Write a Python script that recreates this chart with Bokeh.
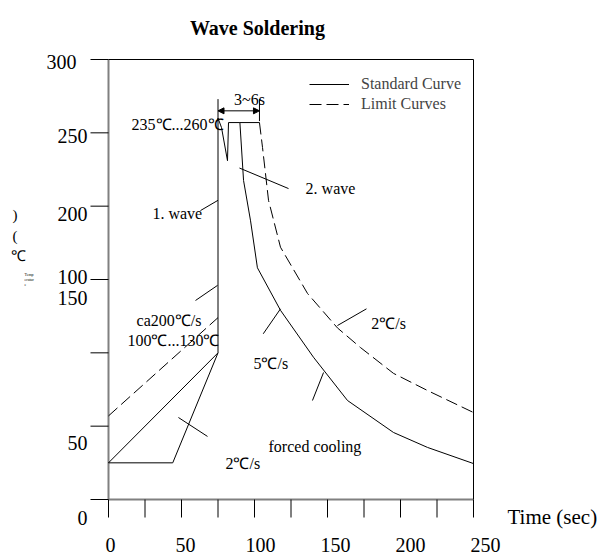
from bokeh.plotting import figure
from bokeh.models import Range1d, Label, Legend, LegendItem, Arrow, NormalHead, ColumnDataSource
from bokeh.core.properties import value
from bokeh.embed import file_html
from bokeh.resources import INLINE

# ---------------- data ----------------
x_ticks = [0, 25, 50, 75, 100, 125, 150, 175, 200, 225, 250]
x_label_text = ["0", "50", "100", "150", "200", "250"]
x_label_val = [0, 50, 100, 150, 200, 250]
y_ticks = [0, 50, 100, 150, 200, 250, 300]
# y tick labels as they appear (misplaced) in the source picture
y_label_text = ["300", "250", "200", "100", "150", "50", "0"]
y_label_val = [298, 248, 195, 151.4, 137.7, 38.2, -12.3]

# standard curve (time s, temperature C)
std_x = [0, 44, 75, 75, 77.4, 81.5, 82.2, 90, 92.5, 97.3, 102, 117.8, 140.4, 163.7, 195.2, 218.5, 250]
std_y = [25, 25, 100, 260, 253.6, 231, 257, 257, 217.5, 190, 158, 129, 97, 67.5, 45.7, 35.5, 24.5]
lower_x = [0, 75]
lower_y = [25, 100]
plateau_x = [90, 103.4]
plateau_y = [257, 257]
# limit curves
lim_pre_x = [0, 75]
lim_pre_y = [57, 124]
lim_cool_x = [103.4, 105.5, 109.6, 117.8, 136.3, 156.8, 172.6, 195.2, 218.5, 250]
lim_cool_y = [257, 240, 204, 172, 140.5, 117, 103.6, 86, 74.3, 59.3]

# leader lines
lead_x0 = [63, 89.7, 59.6, 106, 139.7, 156.8, 47.9]
lead_y0 = [197, 226, 135.7, 113, 67.5, 118.6, 55.9]
lead_x1 = [75, 123.3, 74.7, 117.8, 147.3, 176.7, 67.8]
lead_y1 = [204, 212, 146, 130, 86.6, 130, 43.0]

# dimension 3~6s
dim_x = [75, 103.4]
dim_y = 265
ext_y = [258, 273]

# annotation texts
ann_text = ["1. wave", "2. wave", "ca200\u2103/s", "100\u2103...130\u2103", "5\u2103/s",
            "2\u2103/s", "forced cooling", "2\u2103/s"]
ann_x = [30.1, 135, 19.2, 13, 99.3, 180, 109.6, 80.1]
ann_y = [195, 212, 122, 108.4, 92.7, 120, 36.1, 24.5]

FONT = "Liberation Serif"
W, H = 598, 556
PX, PY = 1.46, 440 / 300.0          # pixels per data unit
X0, Y0 = 108, 499                    # page position of data origin

p = figure(width=W, height=H,
           x_range=Range1d(-X0 / PX, (W - X0) / PX),
           y_range=Range1d(-(H - Y0) / PY, Y0 / PY),
           x_axis_type=None, y_axis_type=None,
           output_backend="svg", toolbar_location=None,
           min_border=0, min_border_left=0, min_border_right=0,
           min_border_top=0, min_border_bottom=0)
p.grid.visible = False
p.outline_line_color = None
p.background_fill_color = "white"
p.border_fill_color = "white"

TX = 18 / PX
TY = 18 / PY

# axes frame
p.segment([0, 0], [0, 0], [0, 250], [300, 0], line_color="#808080", line_width=2)
p.segment([0, 250], [300, 0], [250, 250], [300, 300], line_color="black", line_width=1)
# ticks
p.segment([-TX] * len(y_ticks), y_ticks, [0] * len(y_ticks), y_ticks, line_color="black", line_width=1)
p.segment(x_ticks, [0] * len(x_ticks), x_ticks, [-TY] * len(x_ticks), line_color="black", line_width=1)

# tick labels
xl_pos = [(2 + 1.5 * v) / PX for v in x_label_val]
p.text(xl_pos, [-(544 - Y0) / PY] * len(xl_pos), text=x_label_text, text_font=value(FONT),
       text_font_size="20px", text_align="center", text_baseline="middle", text_color="black")
yl_x = [-14.4 if t != "300" else -21.9 for t in y_label_text]
p.text(yl_x, y_label_val, text=y_label_text, text_font=value(FONT), text_font_size="20px",
       text_align="right", text_baseline="middle", text_color="black")

# curves
r_std = p.line(std_x, std_y, line_color="black", line_width=1)
p.line(lower_x, lower_y, line_color="black", line_width=1)
p.line(plateau_x, plateau_y, line_color="black", line_width=1)
r_lim = p.line(lim_cool_x, lim_cool_y, line_color="black", line_width=1, line_dash="12 5")
p.line(lim_pre_x, lim_pre_y, line_color="black", line_width=1, line_dash="12 5")

lead_src = ColumnDataSource(dict(x0=lead_x0, y0=lead_y0, x1=lead_x1, y1=lead_y1))
p.segment("x0", "y0", "x1", "y1", source=lead_src, line_color="black", line_width=1)

# dimension line
p.segment([dim_x[0], dim_x[1]], [ext_y[0], ext_y[0]], [dim_x[0], dim_x[1]], [ext_y[1], ext_y[1]],
          line_color="black", line_width=1)
p.add_layout(Arrow(x_start=dim_x[0], y_start=dim_y, x_end=dim_x[1], y_end=dim_y,
                   line_width=1, line_color="black",
                   start=NormalHead(size=6, fill_color="black", line_color="black"),
                   end=NormalHead(size=6, fill_color="black", line_color="black")))

legend = Legend(items=[LegendItem(label="Standard Curve", renderers=[r_std]),
                       LegendItem(label="Limit Curves", renderers=[r_lim])],
                location=(309, H - 114), glyph_width=40, glyph_height=20, label_height=20,
                label_standoff=12, spacing=0, padding=0, margin=0,
                border_line_alpha=0, background_fill_alpha=0,
                label_text_font=FONT, label_text_font_size="16px")
p.add_layout(legend)


def lab(x, y, t, size="16px", align="left", bold=False):
    p.add_layout(Label(x=x, y=y, text=t, text_font=FONT, text_font_size=size,
                       text_align=align, text_baseline="middle", text_color="black",
                       text_font_style="bold" if bold else "normal"))


for t, x, y in zip(ann_text, ann_x, ann_y):
    lab(x, y, t)
lab(78.8, 255.7, "235\u2103...260\u2103", align="right")
lab(96.6, 272.7, "3~6s", align="center")

# title and axis titles
lab(102, 321.8, "Wave Soldering", size="20px", align="center", bold=True)
lab(273.3, -11.6, "Time (sec)", size="21px")
lab(-65.8, 194.3, ")", size="15px")
lab(-65.8, 180, "(", size="15px")
lab(-66.5, 165.7, "\u2103", size="15px")
lab(-57.5, 153.4, "Temp", size="4px")
lab(-57.5, 150, "eratur", size="4px")
lab(-57.5, 146.6, "e", size="4px")

open("out.html", "w").write(file_html(p, INLINE))
